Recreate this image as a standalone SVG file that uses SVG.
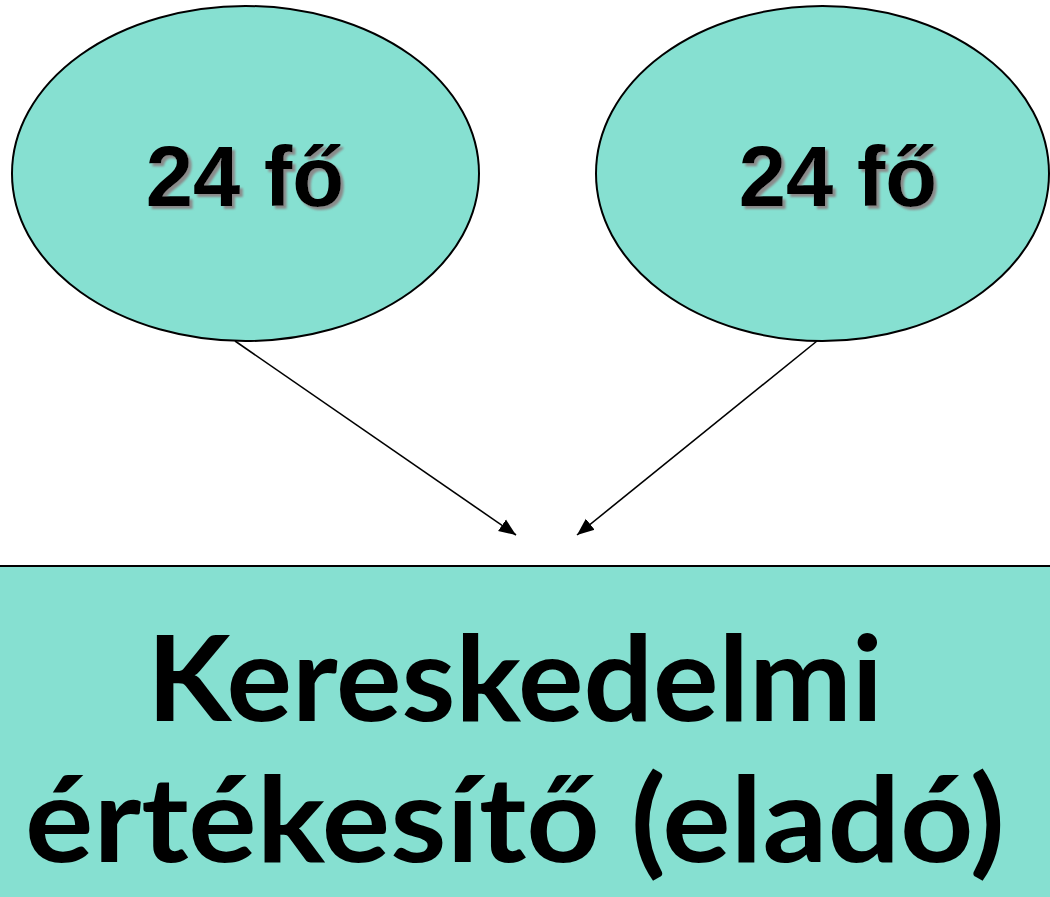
<svg xmlns="http://www.w3.org/2000/svg" width="1050" height="897" viewBox="0 0 1050 897">
  <style>
    .shape { fill: #86E0D1; stroke: #000; stroke-width: 2; }
    .small { font-family: "Liberation Sans", Arial, sans-serif; font-weight: bold; font-size: 85px; text-anchor: middle; fill: #000; filter: url(#shadow); }
    .big { font-family: Lato, "Open Sans", sans-serif; font-weight: bold; font-size: 118px; text-anchor: middle; fill: #000; }
    .conn { stroke: #000; stroke-width: 1.6; fill: none; }
  </style>
  <defs>
    <filter id="shadow" x="-10%" y="-20%" width="130%" height="150%">
      <feDropShadow dx="3" dy="3" stdDeviation="1" flood-color="#8a8a8a" flood-opacity="1"/>
    </filter>
    <marker id="arrow" markerUnits="userSpaceOnUse" markerWidth="18" markerHeight="16" refX="17" refY="8" orient="auto">
      <path d="M0,1 L17,8 L0,15 z" fill="#000"/>
    </marker>
  </defs>
  <rect width="1050" height="897" fill="#fff"/>
  <g id="node-left">
    <ellipse class="shape" cx="245.5" cy="173.5" rx="233.5" ry="167.5"/>
    <text class="small" x="245" y="206">24 fő</text>
  </g>
  <g id="node-right">
    <ellipse class="shape" cx="822.5" cy="173.5" rx="226.5" ry="167.5"/>
    <text class="small" x="838" y="206">24 fő</text>
  </g>
  <g id="node-bottom">
    <rect class="shape" x="-3" y="566" width="1056" height="340"/>
    <text class="big" x="515" y="721" textLength="736" lengthAdjust="spacingAndGlyphs">Kereskedelmi</text>
    <text class="big" x="515" y="862" textLength="980" lengthAdjust="spacingAndGlyphs">értékesítő (eladó)</text>
  </g>
  <g id="connectors">
    <line class="conn" x1="235" y1="341" x2="516" y2="535" marker-end="url(#arrow)"/>
    <line class="conn" x1="817" y1="341" x2="577" y2="535" marker-end="url(#arrow)"/>
  </g>
</svg>
